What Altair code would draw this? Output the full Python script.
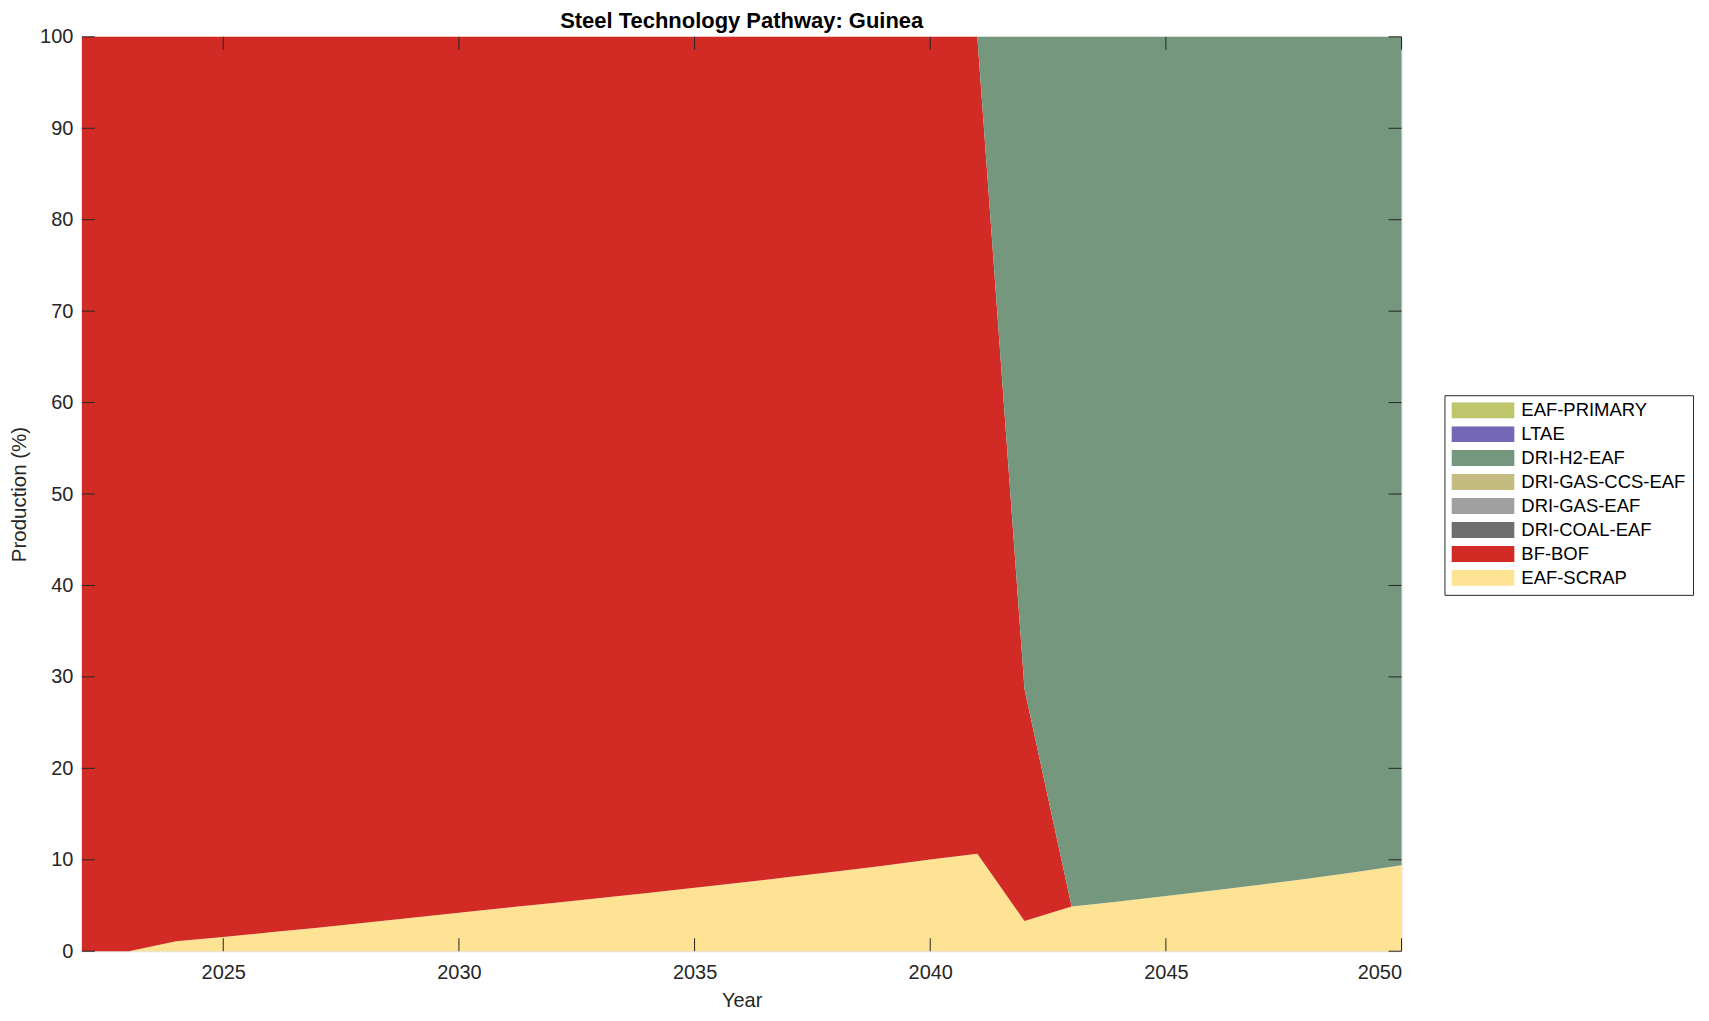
import altair as alt
import pandas as pd

years = list(range(2022, 2051))

eaf_scrap = [0, 0, 1.09, 1.56, 2.07, 2.58, 3.10, 3.65, 4.22, 4.75, 5.28, 5.81, 6.37, 6.95,
             7.52, 8.11, 8.72, 9.36, 10.04, 10.67, 3.31, 4.88, 5.44, 6.04, 6.63, 7.26,
             7.93, 8.64, 9.39]
bf_bof = [100, 100, 98.91, 98.44, 97.93, 97.42, 96.90, 96.35, 95.78, 95.25, 94.72, 94.19,
          93.63, 93.05, 92.48, 91.89, 91.28, 90.64, 89.96, 89.33, 25.37, 0, 0, 0, 0, 0,
          0, 0, 0]
dri_coal_eaf = [0] * 29
dri_gas_eaf = [0] * 29
dri_gas_ccs_eaf = [0] * 29
dri_h2_eaf = [0, 0, 0, 0, 0, 0, 0, 0, 0, 0, 0, 0, 0, 0, 0, 0, 0, 0, 0, 0, 71.32, 95.12,
              94.56, 93.96, 93.37, 92.74, 92.07, 91.36, 90.61]
ltae = [0] * 29
eaf_primary = [0] * 29

# stacking order, bottom to top
stack_names = ["EAF-SCRAP", "BF-BOF", "DRI-COAL-EAF", "DRI-GAS-EAF", "DRI-GAS-CCS-EAF",
               "DRI-H2-EAF", "LTAE", "EAF-PRIMARY"]
stack_series = [eaf_scrap, bf_bof, dri_coal_eaf, dri_gas_eaf, dri_gas_ccs_eaf,
                dri_h2_eaf, ltae, eaf_primary]
stack_colors = ["#fee395", "#d22b26", "#6e6e6e", "#a0a0a0", "#c4bb80",
                "#74977e", "#7468b6", "#bec56a"]

x_ticks = [2025, 2030, 2035, 2040, 2045, 2050]
y_ticks = [0, 10, 20, 30, 40, 50, 60, 70, 80, 90, 100]

rows = []
for i, (name, vals) in enumerate(zip(stack_names, stack_series)):
    for y, v in zip(years, vals):
        rows.append({"year": y, "tech": name, "value": v, "order": i})
df = pd.DataFrame(rows)

legend_order = stack_names[::-1]
legend_colors = stack_colors[::-1]

W, H = 1322, 916
AX = "#262626"
FONT = "Liberation Sans"
TL = 13

xscale = alt.Scale(domain=[2022, 2050], nice=False, zero=False)
yscale = alt.Scale(domain=[0, 100], nice=False)

x_axis = alt.Axis(values=x_ticks, format="d", title="Year", ticks=False,
                  domain=False, grid=False, labelFontSize=20, labelPadding=11,
                  titleFontSize=20, titleFontWeight="normal", titlePadding=8,
                  labelColor=AX, titleColor=AX, labelFont=FONT, titleFont=FONT)
y_axis = alt.Axis(values=y_ticks, title="Production (%)", ticks=False,
                  domain=False, grid=False, labelFontSize=20, labelPadding=9,
                  titleFontSize=20.5, titleFontWeight="normal", titlePadding=10,
                  labelColor=AX, titleColor=AX, labelFont=FONT, titleFont=FONT)

area = alt.Chart(df).mark_area(interpolate="linear").encode(
    x=alt.X("year:Q", scale=xscale, axis=x_axis),
    y=alt.Y("value:Q", stack="zero", scale=yscale, axis=y_axis),
    color=alt.Color("tech:N",
                    scale=alt.Scale(domain=legend_order, range=legend_colors),
                    legend=alt.Legend(
                        title=None, orient="none", legendX=1365, legendY=359,
                        symbolType="M-1,-0.254L1,-0.254L1,0.254L-1,0.254Z",
                        symbolSize=3969, symbolStrokeWidth=0, symbolOpacity=1,
                        clipHeight=16, rowPadding=5, padding=7, labelOffset=7,
                        labelFontSize=18.5, labelFont=FONT, labelColor="black",
                        strokeColor=AX, fillColor="white", labelLimit=0)),
    order=alt.Order("order:Q", sort="ascending"),
)

xt = pd.DataFrame({"t": x_ticks})
yt = pd.DataFrame({"t": y_ticks})

bottom_ticks = alt.Chart(xt).mark_rule(color=AX, strokeWidth=1).encode(
    x=alt.X("t:Q", scale=xscale, axis=x_axis), y=alt.value(H), y2=alt.value(H - TL))
top_ticks = alt.Chart(xt).mark_rule(color=AX, strokeWidth=1).encode(
    x=alt.X("t:Q", scale=xscale, axis=x_axis), y=alt.value(0), y2=alt.value(TL))
left_ticks = alt.Chart(yt).mark_rule(color=AX, strokeWidth=1).encode(
    y=alt.Y("t:Q", scale=yscale, axis=y_axis), x=alt.value(0), x2=alt.value(TL))
right_ticks = alt.Chart(yt).mark_rule(color=AX, strokeWidth=1).encode(
    y=alt.Y("t:Q", scale=yscale, axis=y_axis), x=alt.value(W - TL), x2=alt.value(W))

chart = alt.layer(area, bottom_ticks, top_ticks, left_ticks, right_ticks).properties(
    width=W, height=H,
    title=alt.TitleParams("Steel Technology Pathway: Guinea", fontSize=22,
                          fontWeight="bold", font=FONT, anchor="middle", offset=4,
                          dy=10, color="black"),
    padding={"left": 74, "top": 28, "right": 300, "bottom": 62},
    autosize=alt.AutoSizeParams(type="none"),
).configure_view(stroke=AX, strokeWidth=1).configure(background="white")

chart.save("out.html", embed_options={"renderer": "svg", "actions": False})
